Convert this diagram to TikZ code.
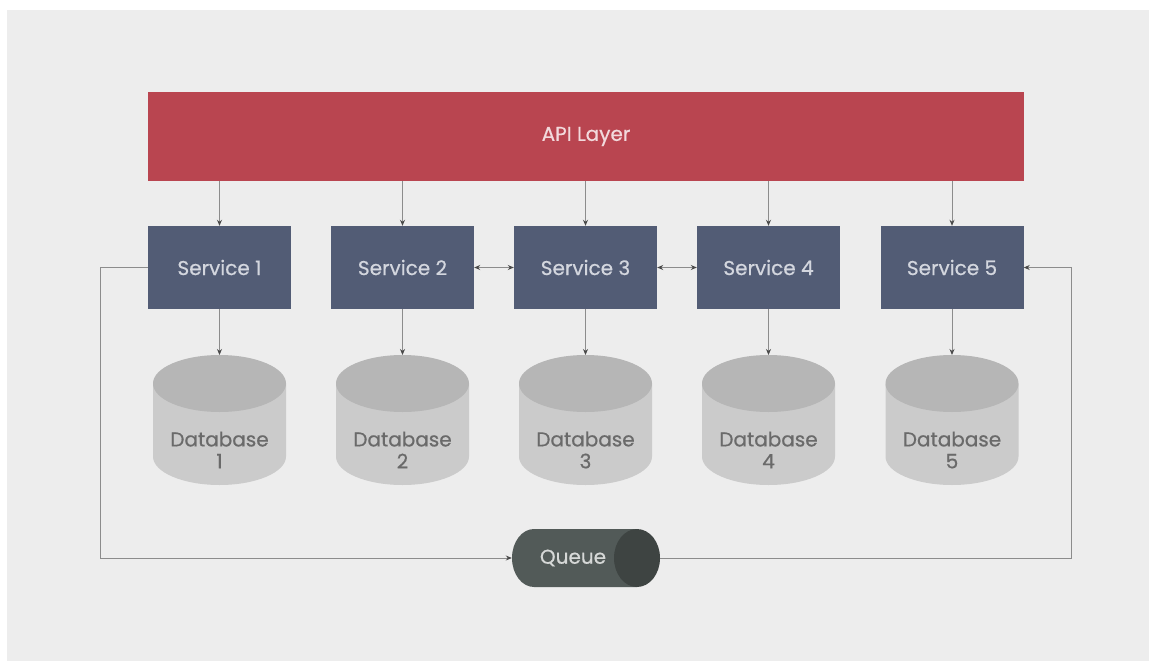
\documentclass[tikz,border=0pt]{standalone}
\usepackage{fontspec}
\setmainfont{Poppins}[FakeBold=0.6]
\usetikzlibrary{arrows.meta}

\definecolor{pagebg}{HTML}{EDEDED}
\definecolor{apired}{HTML}{B94550}
\definecolor{apitext}{HTML}{F2D9DC}
\definecolor{svcblue}{HTML}{525C75}
\definecolor{svctext}{HTML}{D3D6DE}
\definecolor{dbbody}{HTML}{CBCBCB}
\definecolor{dbtop}{HTML}{B6B6B6}
\definecolor{dbtext}{HTML}{6A6A6A}
\definecolor{qbody}{HTML}{525A58}
\definecolor{qcap}{HTML}{3E4442}
\definecolor{qtext}{HTML}{D6D8D7}
\definecolor{wire}{HTML}{8C8C8C}
\definecolor{tipcol}{HTML}{4A4A4A}

\tikzset{
  lbl/.style={font=\fontsize{20}{22}\selectfont},
  apibox/.style={lbl, fill=apired, minimum width=876, minimum height=89, inner sep=0,
    text=apitext},
  svcbox/.style={lbl, fill=svcblue, minimum width=143, minimum height=83, inner sep=0,
    text=svctext},
  dblabel/.style={lbl, text=dbtext, align=center, inner sep=0},
  qbox/.style={minimum width=148, minimum height=58, inner sep=0},
  conn/.style={draw=wire, line width=0.9pt,
    -{Stealth[length=6pt,width=5pt,color=tipcol]}},
  biconn/.style={draw=wire, line width=0.9pt,
    {Stealth[length=6pt,width=5pt,color=tipcol]}-{Stealth[length=6pt,width=5pt,color=tipcol]}},
}

\begin{document}
\begin{tikzpicture}[x=1pt,y=-1pt]
  % canvas
  \fill[white] (0,0) rectangle (1149,661);
  \fill[pagebg] (7,10) rectangle (1149,661);
  \useasboundingbox (0,0) rectangle (1149,661);

  % API layer
  \node[apibox] (api) at (586,136.5) {API Layer};

  % services, databases and their links
  \foreach \i/\x in {1/219.5, 2/402.5, 3/585.5, 4/768.5, 5/952} {
    \node[svcbox] (s\i) at (\x,267.5) {Service \i};
    % cylinder: body then top face
    \fill[dbbody] (\x-66.5,383.5) -- (\x-66.5,456.5)
      arc[start angle=180, end angle=360, x radius=66.5, y radius=-28.5]
      -- (\x+66.5,383.5) -- cycle;
    \fill[dbtop] (\x,383.5) ellipse[x radius=66.5, y radius=28.5];
    \coordinate (dbt\i) at (\x,355);
    \node[dblabel] (db\i) at (\x,450) {Database\\\i};
    \draw[conn] (api.south -| s\i) -- (s\i.north);
    \draw[conn] (s\i.south) -- (dbt\i);
  }

  % peer links between services
  \draw[biconn] (s2.east) -- (s3.west);
  \draw[biconn] (s3.east) -- (s4.west);

  % queue
  \node[qbox] (queue) at (586,558) {};
  \fill[qbody] (637,529) -- (534,529)
    arc[start angle=90, end angle=270, x radius=22, y radius=-29]
    -- (637,587) -- cycle;
  \fill[qcap] (637,558) ellipse[x radius=23, y radius=29];
  \node[lbl, text=qtext, inner sep=0] (qlabel) at (573,558) {Queue};

  % asynchronous path through the queue
  \coordinate (lt) at (100,267.5);
  \coordinate (lb) at (100,558);
  \coordinate (rb) at (1071,558);
  \coordinate (rt) at (1071,267.5);
  \draw[conn] (s1.west) -- (lt) -- (lb) -- (queue.west);
  \draw[conn] (queue.east) -- (rb) -- (rt) -- (s5.east);
\end{tikzpicture}
\end{document}
